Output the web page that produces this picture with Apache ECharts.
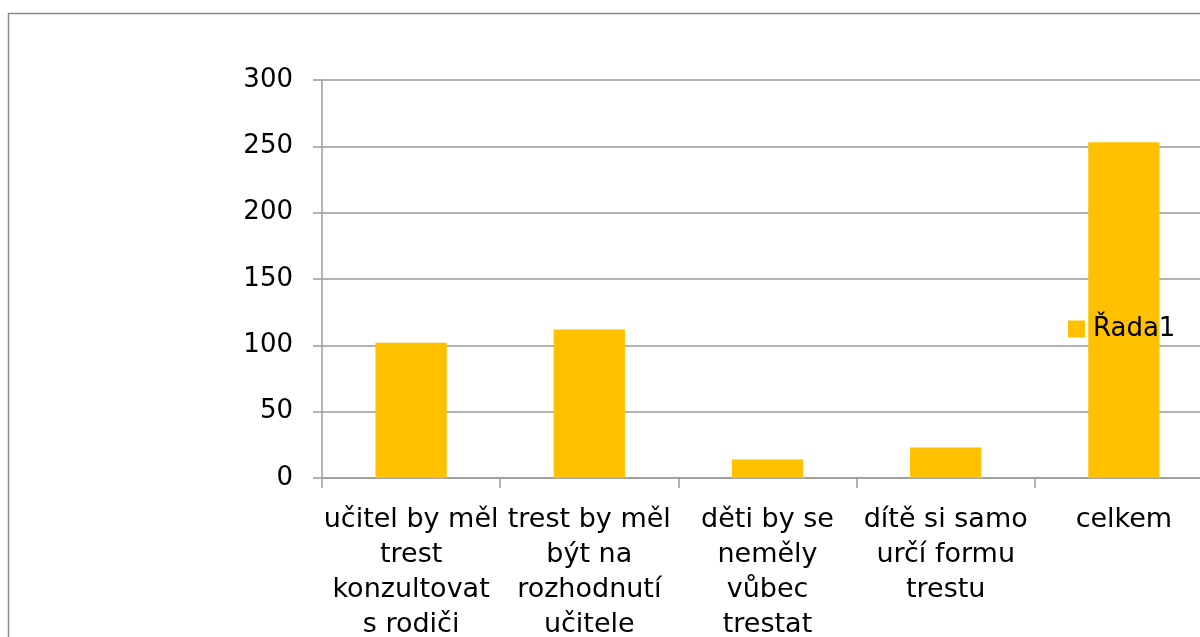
<!DOCTYPE html>
<html lang="cs" style="height: 100%">
<head>
  <meta charset="utf-8">
</head>
<body style="height: 100%; margin: 0; background-color:#ffffff;">
  <div id="container" style="width: 1200px; height: 637px"></div>

<script src="https://cdn.jsdelivr.net/npm/echarts@6/dist/echarts.min.js"></script>

<script>
  var categories = [
    'učitel by měl\ntrest\nkonzultovat\ns rodiči',
    'trest by měl\nbýt na\nrozhodnutí\nučitele',
    'děti by se\nneměly\nvůbec\ntrestat',
    'dítě si samo\nurčí formu\ntrestu',
    'celkem'
  ];
  var seriesName = 'Řada1';
  var values = [102, 112, 14, 23, 253];
  var yTicks = { min: 0, max: 300, interval: 50 };

  var dom = document.getElementById('container');
  var myChart = echarts.init(dom);

  var font = 'DejaVu Sans';
  var gray = '#9a9a9a';

  var option = {
    animation: false,
    textStyle: { fontFamily: font },
    graphic: [{
      type: 'rect',
      shape: { x: 8.5, y: 13.5, width: 1300, height: 700 },
      style: { fill: 'none', stroke: '#8a8a8a', lineWidth: 1.5 },
      z: 0
    }],
    legend: {
      left: 1068,
      top: 316,
      padding: 0,
      icon: 'rect',
      itemWidth: 17,
      itemHeight: 17,
      itemGap: 8,
      textStyle: { fontFamily: font, fontSize: 26, color: '#000', padding: [0, 0, 0, 3] },
      data: [seriesName],
      z: 10
    },
    grid: {
      left: 322,
      top: 80,
      width: 891,
      bottom: 159,
      containLabel: false,
      outerBoundsMode: 'none'
    },
    xAxis: {
      type: 'category',
      data: categories,
      axisLine: { lineStyle: { color: gray, width: 1.5 } },
      axisTick: { show: true, length: 10, interval: 0, lineStyle: { color: gray, width: 1.5 } },
      axisLabel: {
        interval: 0,
        margin: 24,
        fontSize: 27,
        lineHeight: 35,
        color: '#000',
        fontFamily: font
      }
    },
    yAxis: {
      type: 'value',
      min: yTicks.min,
      max: yTicks.max,
      interval: yTicks.interval,
      axisLine: { show: true, lineStyle: { color: gray, width: 1.5 } },
      axisTick: { show: true, length: 9, lineStyle: { color: gray, width: 1.5 } },
      splitLine: { lineStyle: { color: gray, width: 1.5 } },
      axisLabel: { margin: 29, fontSize: 26, color: '#000', fontFamily: font }
    },
    series: [{
      name: seriesName,
      type: 'bar',
      data: values,
      barCategoryGap: '60%',
      itemStyle: { color: '#ffc000' }
    }]
  };

  myChart.setOption(option);
  window.addEventListener('resize', myChart.resize);
</script>

</body>
</html>
